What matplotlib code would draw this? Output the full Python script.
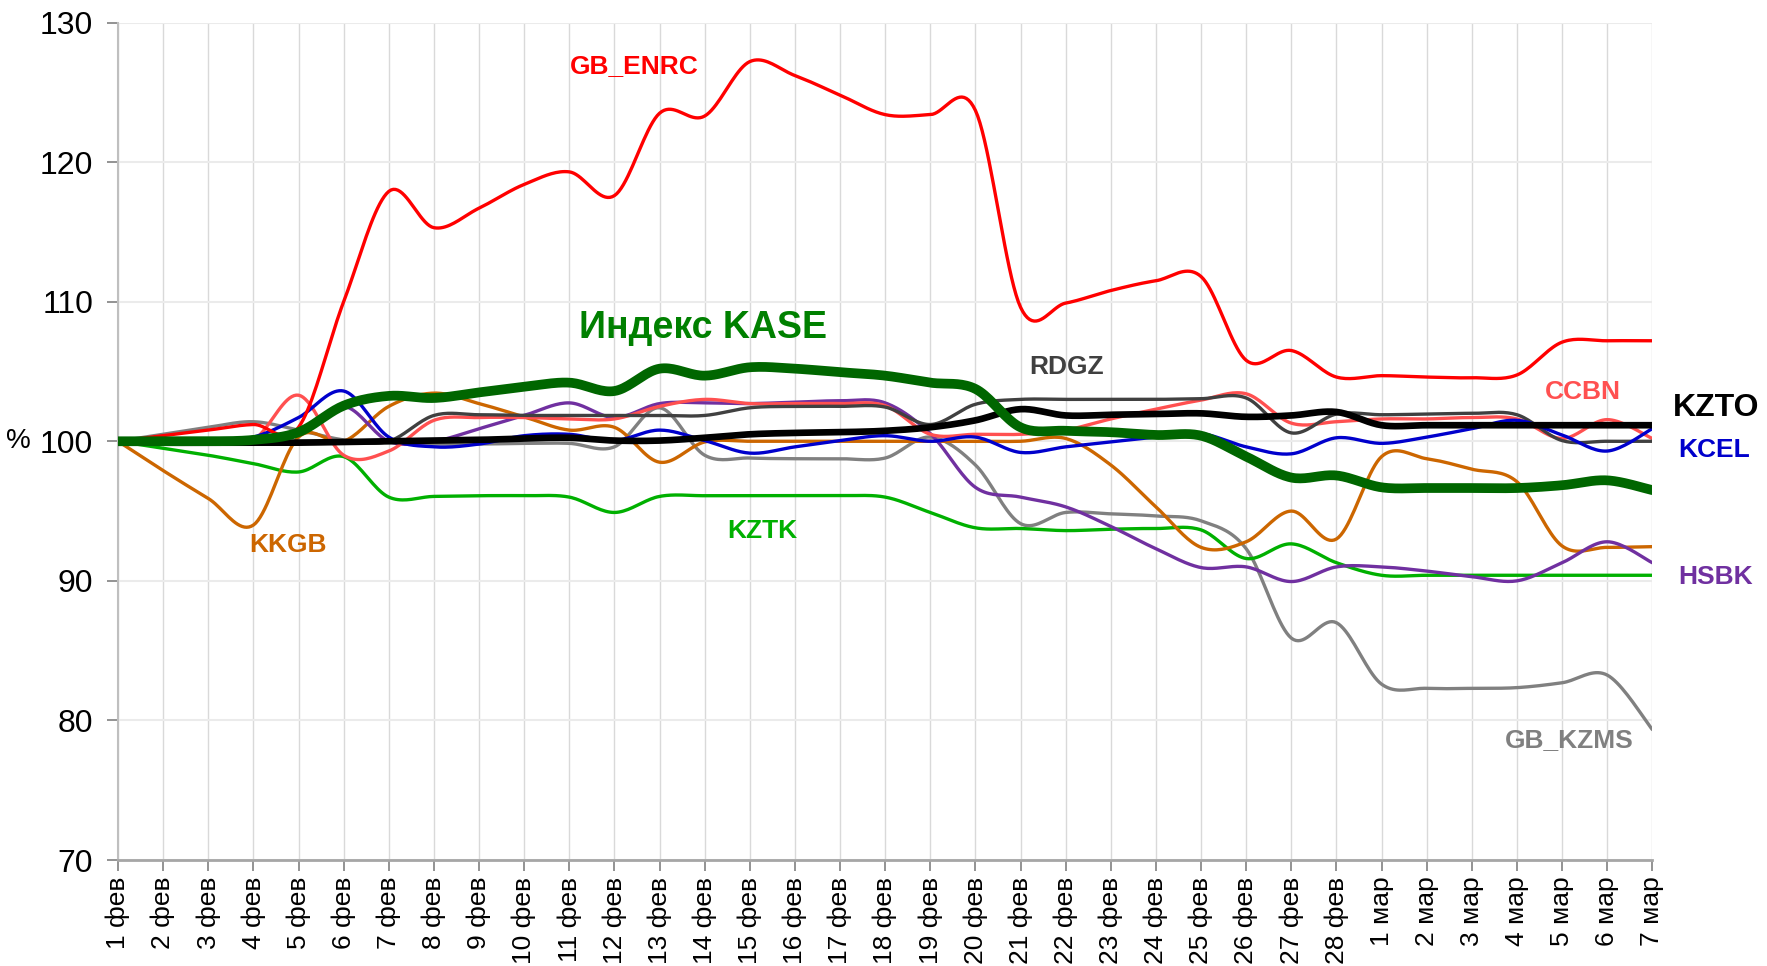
import numpy as np
import matplotlib
matplotlib.use('Agg')
import matplotlib.pyplot as plt

matplotlib.rcParams['font.family'] = ['Liberation Sans', 'DejaVu Sans']
matplotlib.rcParams['axes.unicode_minus'] = False

# даты: 1 фев .. 28 фев, 1 мар .. 7 мар
days = [f'{d} фев' for d in range(1, 29)] + [f'{d} мар' for d in range(1, 8)]

# значения, % к 1 фев
gb_enrc = [100, 100.4, 100.8, 101.2, 101.0, 110.0, 117.9, 115.3, 116.7, 118.4, 119.3, 117.6,
           123.5, 123.3, 127.2, 126.2, 124.8, 123.4, 123.4, 123.7, 109.6, 109.9, 110.8, 111.5,
           111.8, 105.8, 106.5, 104.6, 104.7, 104.6, 104.55, 104.75, 107.1, 107.2, 107.2]
ccbn = [100, 100, 100, 100.1, 103.3, 99.0, 99.3, 101.5, 101.7, 101.7, 101.6, 101.6,
        102.5, 103.0, 102.7, 102.7, 102.7, 102.55, 100.5, 100.5, 100.5, 100.8, 101.6, 102.3,
        102.95, 103.4, 101.3, 101.4, 101.6, 101.6, 101.7, 101.6, 100.2, 101.55, 100.2]
kcel = [100, 100, 100, 100.3, 101.7, 103.6, 100.3, 99.6, 99.8, 100.4, 100.5, 100.05,
        100.8, 100.05, 99.15, 99.6, 100.05, 100.4, 100.0, 100.3, 99.2, 99.6, 99.95, 100.3,
        100.55, 99.6, 99.1, 100.25, 99.85, 100.3, 100.9, 101.5, 100.45, 99.3, 100.9]
kzto = [100, 99.9, 99.9, 99.9, 99.9, 99.95, 100.0, 100.05, 100.1, 100.2, 100.25, 100.05,
        100.05, 100.25, 100.5, 100.6, 100.65, 100.75, 101.0, 101.5, 102.3, 101.85, 101.9, 101.95,
        102.0, 101.75, 101.85, 102.1, 101.15, 101.15, 101.15, 101.15, 101.15, 101.15, 101.15]
gb_kzms = [100, 100.5, 101.0, 101.4, 100.8, 100.1, 99.95, 99.8, 99.8, 99.85, 99.85, 99.6,
           102.4, 99.0, 98.8, 98.75, 98.75, 98.8, 100.3, 98.3, 94.1, 94.9, 94.8, 94.65,
           94.3, 92.3, 85.9, 87.0, 82.6, 82.3, 82.3, 82.35, 82.7, 83.25, 79.35]
rdgz = [100, 100, 100, 100, 100, 100, 100, 101.85, 101.9, 101.85, 101.85, 101.85,
        101.85, 101.85, 102.4, 102.5, 102.5, 102.45, 101.2, 102.65, 103.0, 103.0, 103.0, 103.0,
        103.05, 103.1, 100.6, 101.95, 101.9, 101.95, 102.0, 101.9, 100.05, 100.0, 100.0]
hsbk = [100, 100, 100, 100, 100.5, 102.5, 100.0, 100.0, 100.9, 101.85, 102.75, 101.7,
        102.7, 102.75, 102.7, 102.8, 102.9, 102.75, 100.55, 96.7, 96.0, 95.3, 93.9, 92.3,
        90.95, 91.0, 89.95, 91.0, 91.0, 90.7, 90.3, 90.0, 91.3, 92.8, 91.3]
kkgb = [100, 97.9, 95.9, 94.0, 100.3, 100.0, 102.5, 103.45, 102.7, 101.75, 100.8, 101.0,
        98.5, 99.95, 100.0, 100.0, 100.0, 100.0, 100.0, 100.0, 100.0, 100.2, 98.3, 95.3,
        92.4, 92.8, 95.0, 93.0, 98.9, 98.75, 98.0, 97.1, 92.5, 92.4, 92.45]
kztk = [100, 99.5, 99.0, 98.4, 97.8, 98.9, 96.0, 96.05, 96.1, 96.1, 96.0, 94.9,
        96.05, 96.1, 96.1, 96.1, 96.1, 96.0, 94.9, 93.8, 93.75, 93.6, 93.7, 93.75,
        93.65, 91.6, 92.65, 91.3, 90.4, 90.4, 90.4, 90.4, 90.4, 90.4, 90.4]
kase = [100, 100, 100, 100.1, 100.65, 102.55, 103.25, 103.1, 103.5, 103.9, 104.2, 103.6,
        105.2, 104.7, 105.3, 105.2, 104.95, 104.7, 104.2, 103.75, 101.0, 100.75, 100.65, 100.45,
        100.4, 98.9, 97.4, 97.55, 96.7, 96.65, 96.65, 96.65, 96.85, 97.2, 96.5]


def smooth(y, n=20):
    # сглаживание как в Excel (безье через соседние точки)
    y = np.asarray(y, float)
    x = np.arange(len(y), dtype=float)
    xs, ys = [], []
    t = np.linspace(0, 1, n, endpoint=False)
    for i in range(len(y) - 1):
        p0 = (x[max(i - 1, 0)], y[max(i - 1, 0)])
        p1 = (x[i], y[i])
        p2 = (x[i + 1], y[i + 1])
        p3 = (x[min(i + 2, len(y) - 1)], y[min(i + 2, len(y) - 1)])
        c1 = (p1[0] + (p2[0] - p0[0]) / 6, p1[1] + (p2[1] - p0[1]) / 6)
        c2 = (p2[0] - (p3[0] - p1[0]) / 6, p2[1] - (p3[1] - p1[1]) / 6)
        for k in range(2):
            pts = [p1[k], c1[k], c2[k], p2[k]]
            v = ((1 - t) ** 3 * pts[0] + 3 * (1 - t) ** 2 * t * pts[1]
                 + 3 * (1 - t) * t ** 2 * pts[2] + t ** 3 * pts[3])
            (xs if k == 0 else ys).append(v)
    xs.append([x[-1]])
    ys.append([y[-1]])
    return np.concatenate(xs), np.concatenate(ys)


fig = plt.figure(figsize=(17.67, 9.66), dpi=100)
ax = fig.add_axes([0.0668, 0.1097, 0.8683, 0.867])

series = [
    (gb_kzms, '#808080', 2.4),
    (kztk, '#00B000', 2.4),
    (kkgb, '#CC6600', 2.4),
    (hsbk, '#7030A0', 2.4),
    (ccbn, '#FF5050', 2.4),
    (rdgz, '#404040', 2.4),
    (kcel, '#0000CC', 2.4),
    (gb_enrc, '#FF0000', 2.4),
    (kzto, '#000000', 4.8),
    (kase, '#006600', 7.0),
]
for vals, col, lw in series:
    sx, sy = smooth(vals)
    ax.plot(sx, sy, color=col, lw=lw, solid_capstyle='round', zorder=3)

ax.set_xlim(0, len(days) - 1)
ax.set_ylim(70, 130)
ax.set_xticks(range(len(days)))
ax.set_xticklabels(days, rotation=90, fontsize=19)
ax.set_yticks(range(70, 131, 10))
ax.set_yticklabels([str(v) for v in range(70, 131, 10)], fontsize=23)
ax.tick_params(axis='both', color='#808080', length=8, width=1.2, direction='out')
ax.tick_params(axis='x', pad=4)
ax.tick_params(axis='y', pad=10)

ax.grid(axis='x', color='#D9D9D9', lw=1)
ax.grid(axis='y', color='#EBEBEB', lw=1.5)
ax.set_axisbelow(True)
for s in ['top', 'right']:
    ax.spines[s].set_visible(False)
ax.spines['left'].set_color('#BFBFBF')
ax.spines['bottom'].set_color('#A6A6A6')
ax.spines['left'].set_linewidth(1.5)
ax.spines['bottom'].set_linewidth(2)

# подписи рядов
labels = [
    ('GB_ENRC', 11.44, 126.9, '#FF0000', 19),
    ('Индекс KASE', 12.97, 108.1, '#008000', 27),
    ('RDGZ', 21.03, 105.3, '#404040', 19),
    ('CCBN', 32.47, 103.5, '#FF5050', 19),
    ('KZTO', 35.42, 102.4, '#000000', 23),
    ('KCEL', 35.37, 99.35, '#0000CC', 19),
    ('HSBK', 35.4, 90.3, '#7030A0', 19),
    ('GB_KZMS', 32.16, 78.6, '#808080', 19),
    ('KKGB', 3.77, 92.55, '#CC6600', 19),
    ('KZTK', 14.27, 93.55, '#00B000', 19),
]
for txt, lx, ly, col, fs in labels:
    ax.text(lx, ly, txt, color=col, fontsize=fs, fontweight='bold',
            ha='center', va='center', clip_on=False, zorder=5)

fig.text(0.0102, 0.5435, '%', fontsize=20, ha='center', va='center')

plt.savefig('out.png', dpi=100)
